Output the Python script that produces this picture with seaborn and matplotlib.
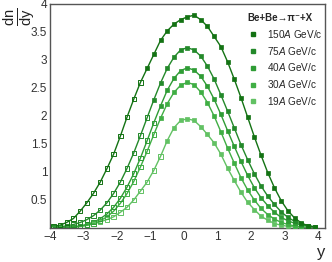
import numpy as np
import pandas as pd
import matplotlib
matplotlib.use("Agg")
import matplotlib.pyplot as plt
from matplotlib.lines import Line2D
from matplotlib.ticker import MultipleLocator
import seaborn as sns

# ---- data -------------------------------------------------------------
rapidity = [-3.9, -3.7, -3.5, -3.3, -3.1, -2.9, -2.7, -2.5, -2.3, -2.1,
            -1.9, -1.7, -1.5, -1.3, -1.1, -0.9, -0.7, -0.5, -0.3, -0.1,
            0.1, 0.3, 0.5, 0.7, 0.9, 1.1, 1.3, 1.5, 1.7, 1.9,
            2.1, 2.3, 2.5, 2.7, 2.9, 3.1, 3.3, 3.5, 3.7, 3.9]

dndy_150 = [0.03, 0.05, 0.10, 0.17, 0.30, 0.45, 0.62, 0.82, 1.06, 1.32,
            1.64, 1.98, 2.30, 2.60, 2.85, 3.10, 3.35, 3.52, 3.64, 3.72,
            3.77, 3.80, 3.72, 3.60, 3.42, 3.24, 2.97, 2.66, 2.33, 1.98,
            1.63, 1.30, 0.99, 0.72, 0.49, 0.31, 0.18, 0.09, 0.04, 0.02]
dndy_75 = [0.014, 0.023, 0.038, 0.062, 0.098, 0.149, 0.221, 0.32, 0.45, 0.617,
           0.82, 1.065, 1.34, 1.65, 1.97, 2.29, 2.59, 2.85, 3.05, 3.18,
           3.22, 3.18, 3.07, 2.89, 2.66, 2.38, 2.09, 1.79, 1.49, 1.22,
           0.97, 0.75, 0.57, 0.42, 0.29, 0.19, 0.12, 0.07, 0.04, 0.02]
dndy_40 = [0.004, 0.007, 0.012, 0.022, 0.038, 0.065, 0.105, 0.166, 0.25, 0.37,
           0.53, 0.73, 0.97, 1.25, 1.56, 1.88, 2.18, 2.46, 2.67, 2.81,
           2.86, 2.82, 2.71, 2.53, 2.30, 2.03, 1.74, 1.46, 1.19, 0.94,
           0.72, 0.54, 0.40, 0.28, 0.19, 0.13, 0.085, 0.054, 0.033, 0.02]
dndy_30 = [0.002, 0.004, 0.008, 0.015, 0.027, 0.047, 0.079, 0.128, 0.20, 0.30,
           0.44, 0.615, 0.83, 1.09, 1.37, 1.67, 1.96, 2.22, 2.42, 2.55,
           2.60, 2.56, 2.43, 2.24, 2.00, 1.72, 1.43, 1.16, 0.90, 0.68,
           0.50, 0.35, 0.24, 0.16, 0.10, 0.063, 0.038, 0.022, 0.012, 0.007]
dndy_19 = [0.01, 0.01, 0.02, 0.02, 0.03, 0.05, 0.07, 0.11, 0.15, 0.20,
           0.28, 0.37, 0.50, 0.66, 0.82, 1.03, 1.28, 1.56, 1.79, 1.92,
           1.95, 1.92, 1.81, 1.67, 1.52, 1.32, 1.07, 0.85, 0.64, 0.46,
           0.33, 0.21, 0.14, 0.08, 0.05, 0.03, 0.02, 0.01, 0.01, 0.00]

energies = ["150", "75", "40", "30", "19"]
# first rapidity at which the points are measured (filled); below it reflected (open)
measured_from = [-1.1, -0.9, -0.7, -0.7, -0.5]
colors = ["#137213", "#23892a", "#2f9c35", "#40ae44", "#62c163"]
legend_title = "Be+Be\u2192\u03c0\u207b+X"

series = [dndy_150, dndy_75, dndy_40, dndy_30, dndy_19]

rows = []
for e, vals, thr in zip(energies, series, measured_from):
    for yy, v in zip(rapidity, vals):
        rows.append({"energy": e, "y": yy, "dndy": v, "measured": yy >= thr - 1e-9})
df = pd.DataFrame(rows)

# ---- figure -----------------------------------------------------------
sns.set_style("white")
plt.rcParams["font.family"] = ["Liberation Sans", "DejaVu Sans"]
plt.rcParams["mathtext.fontset"] = "custom"
plt.rcParams["mathtext.rm"] = "Liberation Sans"
plt.rcParams["mathtext.it"] = "Liberation Sans:italic"
plt.rcParams["mathtext.bf"] = "Liberation Sans:bold"

fig = plt.figure(figsize=(3.32, 2.62), dpi=100)
ax = fig.add_axes([50 / 332, 34 / 262, 275 / 332, 224 / 262])

pal = dict(zip(energies, colors))
for e in energies[::-1]:
    sub = df[df.energy == e]
    sns.lineplot(data=sub, x="y", y="dndy", color=pal[e], lw=1.0, ax=ax,
                 legend=False, sort=True)
    filled = sub[sub.measured]
    opened = sub[~sub.measured]
    sns.scatterplot(data=filled, x="y", y="dndy", marker="s", s=10,
                    color=pal[e], edgecolor=pal[e], linewidth=0.5, ax=ax,
                    legend=False, zorder=3)
    sns.scatterplot(data=opened, x="y", y="dndy", marker="s", s=10,
                    facecolors="none", edgecolors=pal[e], linewidth=0.7,
                    ax=ax, legend=False, zorder=3)

ax.set_xlim(-4, 4.21)
ax.set_ylim(0, 4.0)
ax.xaxis.set_major_locator(MultipleLocator(1))
ax.xaxis.set_minor_locator(MultipleLocator(0.2))
ax.yaxis.set_major_locator(MultipleLocator(0.5))
ax.yaxis.set_minor_locator(MultipleLocator(0.1))
ax.set_yticks([0.5, 1, 1.5, 2, 2.5, 3, 3.5, 4])
ax.set_yticklabels(["0.5", "1", "1.5", "2", "2.5", "3", "3.5", "4"])
ax.set_xticks([-4, -3, -2, -1, 0, 1, 2, 3, 4])
ax.set_xticklabels(["\u22124", "\u22123", "\u22122", "\u22121", "0", "1", "2", "3", "4"])
ax.tick_params(axis="both", which="both", direction="in", top=False,
               right=False, labelsize=8.5, colors="#333333", pad=2)
ax.tick_params(which="major", length=6, width=0.8, color="#555555")
ax.tick_params(which="minor", length=3, width=0.8, color="#555555")
for sp in ax.spines.values():
    sp.set_color("#555555")
    sp.set_linewidth(1.0)

ax.set_xlabel("y", fontsize=12, labelpad=0)
ax.xaxis.set_label_coords(0.985, -0.075)
ax.set_ylabel("")
fig.text(19 / 332, 1 - 17 / 262, r"$\frac{\mathrm{dn}}{\mathrm{dy}}$",
         fontsize=15, rotation=90, rotation_mode="anchor",
         ha="center", va="center", color="#222222")

handles = [Line2D([], [], marker="s", ls="none", color=c, markersize=3.5)
           for c in colors]
labels = [rf"{e}$\it{{A}}$ GeV/c" for e in energies]
leg = ax.legend(handles, labels, loc="upper left",
                bbox_to_anchor=(0.705, 0.978), frameon=False, fontsize=7.2,
                title=legend_title, handletextpad=0.95,
                labelspacing=0.48, handlelength=1.0, borderaxespad=0.0)
leg.get_title().set_fontsize(7.0)
leg.get_title().set_fontweight("bold")
leg._legend_box.align = "left"

fig.savefig("out.png", dpi=100)
